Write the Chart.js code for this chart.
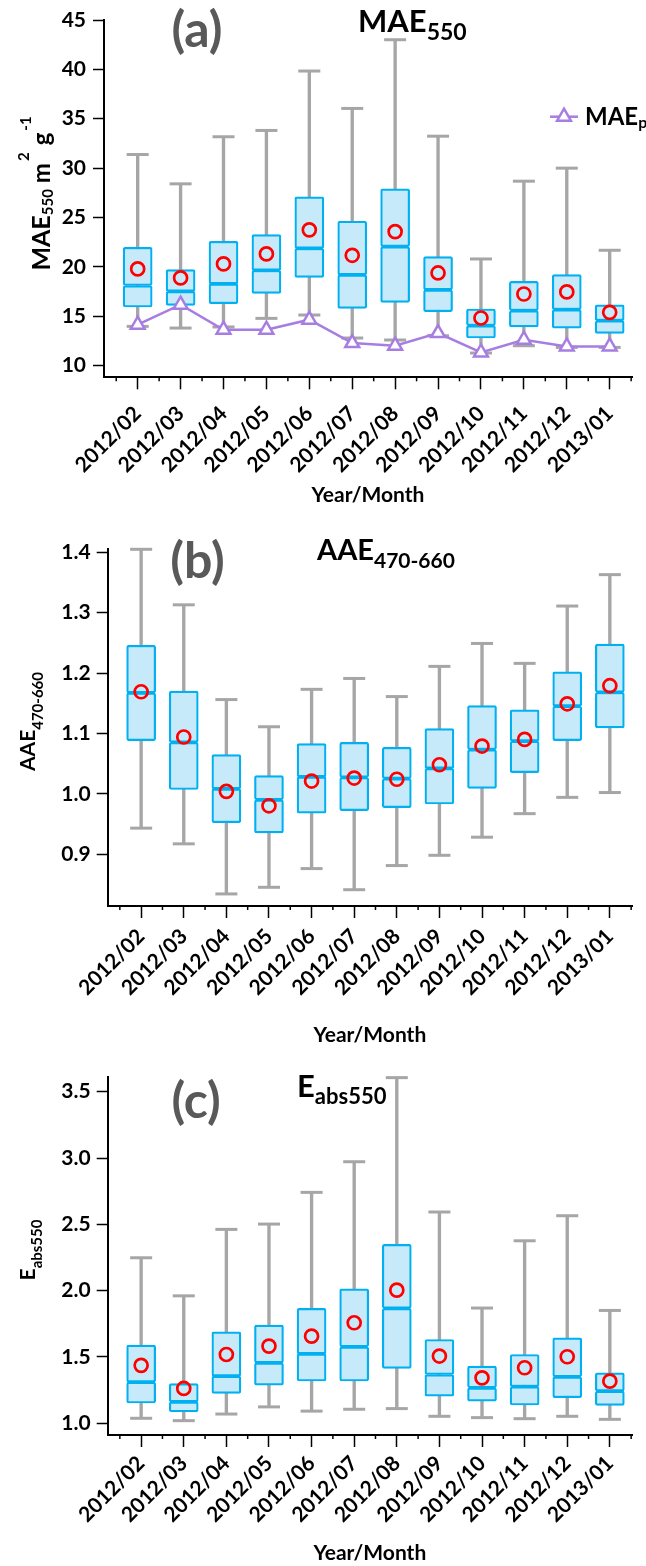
<!DOCTYPE html>
<html>
<head>
<meta charset="utf-8">
<script src="https://cdn.jsdelivr.net/npm/chart.js@4.4.1/dist/chart.umd.min.js"></script>
<style>
  html, body { margin: 0; padding: 0; background: #ffffff; }
  #wrap { position: relative; width: 646px; height: 1566px; overflow: hidden; }
  canvas { position: absolute; left: 0; }
</style>
</head>
<body>
<div id="wrap">
  <canvas id="panelA" width="646" height="515" style="top:0px"></canvas>
  <canvas id="panelB" width="646" height="535" style="top:515px"></canvas>
  <canvas id="panelC" width="646" height="516" style="top:1050px"></canvas>
</div>
<script>
// Monthly categories shared by the three panels
const months = ['2012/02', '2012/03', '2012/04', '2012/05', '2012/06', '2012/07',
                '2012/08', '2012/09', '2012/10', '2012/11', '2012/12', '2013/01'];

// (a) MAE550, m2 g-1 : whisker ends, quartiles, median, mean, and MAEp line
const maeMin  = [13.96, 13.79, 13.90, 14.77, 15.11, 12.78, 12.58, 13.01, 11.26, 12.00, 11.83, 11.83];
const maeQ1   = [15.92, 16.09, 16.26, 17.30, 18.93, 15.78, 16.39, 15.45, 12.78, 13.90, 13.79, 13.25];
const maeMed  = [18.10, 17.50, 18.26, 19.64, 21.87, 19.17, 22.04, 17.65, 14.03, 15.55, 15.65, 14.53];
const maeQ3   = [21.97, 19.71, 22.58, 23.26, 27.08, 24.61, 27.90, 21.03, 15.72, 18.52, 19.20, 16.13];
const maeMax  = [31.37, 28.40, 33.17, 33.81, 39.83, 36.04, 43.00, 33.23, 20.79, 28.67, 29.99, 21.67];
const maeMean = [19.78, 18.87, 20.29, 21.30, 23.74, 21.16, 23.56, 19.37, 14.81, 17.24, 17.45, 15.38];
const maeP    = [14.13, 16.16, 13.62, 13.62, 14.64, 12.27, 12.00, 13.28, 11.32, 12.61, 11.93, 11.93];
const maeTicks = [10, 15, 20, 25, 30, 35, 40, 45];

// (b) AAE470-660
const aaeMin  = [0.943, 0.917, 0.834, 0.845, 0.876, 0.841, 0.881, 0.898, 0.928, 0.967, 0.994, 1.002];
const aaeQ1   = [1.088, 1.007, 0.952, 0.935, 0.968, 0.972, 0.977, 0.983, 1.009, 1.035, 1.088, 1.109];
const aaeMed  = [1.167, 1.085, 1.008, 0.990, 1.028, 1.027, 1.025, 1.042, 1.073, 1.087, 1.145, 1.168];
const aaeQ3   = [1.246, 1.170, 1.065, 1.030, 1.083, 1.085, 1.077, 1.108, 1.146, 1.139, 1.202, 1.248];
const aaeMax  = [1.405, 1.313, 1.156, 1.111, 1.173, 1.191, 1.161, 1.211, 1.249, 1.216, 1.311, 1.363];
const aaeMean = [1.169, 1.094, 1.004, 0.980, 1.021, 1.026, 1.024, 1.048, 1.079, 1.090, 1.149, 1.179];
const aaeTicks = [0.9, 1.0, 1.1, 1.2, 1.3, 1.4];

// (c) Eabs550
const eMin  = [1.038, 1.020, 1.070, 1.124, 1.092, 1.106, 1.111, 1.053, 1.043, 1.035, 1.053, 1.030];
const eQ1   = [1.153, 1.087, 1.225, 1.288, 1.319, 1.319, 1.414, 1.205, 1.167, 1.138, 1.193, 1.135];
const eMed  = [1.310, 1.162, 1.356, 1.456, 1.523, 1.577, 1.866, 1.368, 1.268, 1.276, 1.351, 1.243];
const eQ3   = [1.590, 1.300, 1.690, 1.740, 1.866, 2.014, 2.349, 1.632, 1.431, 1.519, 1.645, 1.381];
const eMax  = [2.248, 1.961, 2.462, 2.502, 2.741, 2.972, 3.606, 2.593, 1.869, 2.376, 2.565, 1.851];
const eMean = [1.437, 1.263, 1.519, 1.582, 1.657, 1.758, 2.004, 1.507, 1.343, 1.419, 1.502, 1.318];
const eTicks = [1.0, 1.5, 2.0, 2.5, 3.0, 3.5];

const FONT = "Lato, 'Open Sans', 'Liberation Sans', sans-serif";
const BOX_EDGE = '#00B0F0';
const BOX_FILL = '#C7EAFB';
const WHISKER = '#A6A6A6';
const MEAN_RED = '#FF0000';
const PURPLE = '#A77DE2';
const INK = '#000000';

// draw a run of text pieces (sub/superscripts) along one baseline
function drawRuns(ctx, parts, x, y, align) {
  let total = 0;
  parts.forEach(p => {
    ctx.font = `bold ${p.size}px ${FONT}`;
    p.w = ctx.measureText(p.t).width;
    total += p.w + (p.gap || 0);
  });
  let cx = align === 'center' ? x - total / 2 : x;
  ctx.textAlign = 'left';
  ctx.textBaseline = 'alphabetic';
  parts.forEach(p => {
    cx += (p.gap || 0);
    ctx.font = `bold ${p.size}px ${FONT}`;
    ctx.fillText(p.t, cx, y + (p.dy || 0));
    cx += p.w;
  });
}

const toXY = arr => arr.map((v, i) => ({ x: i, y: v }));
const toRange = (lo, hi) => lo.map((v, i) => ({ x: i, y: [v, hi[i]] }));

function buildPanel(id, d) {
  const datasets = [
    { type: 'bar', data: toRange(d.min, d.max), backgroundColor: WHISKER, borderWidth: 0,
      barThickness: 2.7, grouped: false, order: 6, clip: false },
    { type: 'bar', data: toRange(d.q1, d.med), backgroundColor: BOX_FILL, borderColor: BOX_EDGE,
      borderWidth: 2.2, borderSkipped: false, borderRadius: 2, barThickness: 29, grouped: false, order: 5, clip: false },
    { type: 'bar', data: toRange(d.med, d.q3), backgroundColor: BOX_FILL, borderColor: BOX_EDGE,
      borderWidth: 2.2, borderSkipped: false, borderRadius: 2, barThickness: 29, grouped: false, order: 5, clip: false },
    { type: 'line', data: toXY(d.min), showLine: false, pointStyle: 'line', pointRadius: 11,
      pointBorderWidth: 3, pointBorderColor: WHISKER, order: 4, clip: false },
    { type: 'line', data: toXY(d.max), showLine: false, pointStyle: 'line', pointRadius: 11,
      pointBorderWidth: 3, pointBorderColor: WHISKER, order: 4, clip: false },
    { type: 'line', data: toXY(d.mean), showLine: false, pointStyle: 'circle', pointRadius: 6.5,
      pointBorderWidth: 2.7, pointBorderColor: MEAN_RED, pointBackgroundColor: 'rgba(0,0,0,0)', order: 2, clip: false }
  ];
  if (d.line) {
    datasets.push({ type: 'line', data: toXY(d.line), borderColor: PURPLE, borderWidth: 2.5,
      pointStyle: 'triangle', pointRadius: 8, pointBorderWidth: 2.5, pointBorderColor: PURPLE,
      pointBackgroundColor: '#FFFFFF', tension: 0, order: 1, clip: false });
  }

  const canvas = document.getElementById(id);
  const H = canvas.height;

  const decorations = {
    id: 'decor_' + id,
    afterDraw(chart) {
      const ctx = chart.ctx;
      const xs = chart.scales.x;
      const bottom = chart.chartArea.bottom;
      ctx.save();
      // minor ticks halfway between months
      ctx.strokeStyle = INK;
      ctx.lineWidth = 1.5;
      for (let v = -0.5; v <= months.length - 0.5; v += 1) {
        const px = xs.getPixelForValue(v);
        ctx.beginPath();
        ctx.moveTo(px, bottom);
        ctx.lineTo(px, bottom + 4);
        ctx.stroke();
      }
      // panel letter
      ctx.fillStyle = '#595959';
      ctx.font = `bold 50px ${FONT}`;
      ctx.textAlign = 'center';
      ctx.textBaseline = 'alphabetic';
      ctx.fillText(d.letter, d.letterX, d.letterY);
      // panel title
      ctx.fillStyle = INK;
      drawRuns(ctx, d.title, d.titleX, d.titleY, 'left');
      // rotated y-axis title
      ctx.save();
      ctx.translate(d.yTitleX, d.yTitleY);
      ctx.rotate(-Math.PI / 2);
      drawRuns(ctx, d.yTitle, 0, 0, 'center');
      ctx.restore();
      // legend for the MAEp line
      if (d.legend) {
        const L = d.legend;
        ctx.strokeStyle = PURPLE;
        ctx.lineWidth = 2.5;
        ctx.beginPath();
        ctx.moveTo(L.x0, L.y);
        ctx.lineTo(L.x1, L.y);
        ctx.stroke();
        ctx.fillStyle = '#FFFFFF';
        Chart.helpers.drawPoint(ctx, { pointStyle: 'triangle', radius: 8, borderWidth: 2.5, rotation: 0 },
          (L.x0 + L.x1) / 2, L.y);
        ctx.fillStyle = INK;
        drawRuns(ctx, [{ t: 'MAE', size: 24 }, { t: 'p', size: 16, dy: 3 }], L.textX, L.textY, 'left');
      }
      ctx.restore();
    }
  };

  return new Chart(canvas, {
    type: 'bar',
    data: { datasets },
    options: {
      responsive: false,
      animation: false,
      events: [],
      layout: { padding: { left: 0, right: d.padRight, top: d.padTop, bottom: 0 } },
      plugins: { legend: { display: false }, tooltip: { enabled: false } },
      scales: {
        x: {
          type: 'linear',
          min: -0.785,
          max: 11.52,
          offset: false,
          afterBuildTicks: s => { s.ticks = months.map((m, i) => ({ value: i })); },
          afterFit: s => { s.height = H - d.plotBottom; },
          grid: { drawOnChartArea: false, drawTicks: true, tickLength: 12, tickWidth: 1.5,
                  tickColor: INK, offset: false },
          border: { display: true, color: INK, width: 2 },
          ticks: {
            autoSkip: false, minRotation: 45, maxRotation: 45, padding: d.xLabelPad,
            color: INK, font: { family: FONT, size: 21, weight: 'bold' },
            callback: v => months[v]
          },
          title: { display: true, text: 'Year/Month', color: INK,
                   font: { family: FONT, size: 21, weight: 'bold' },
                   padding: { top: 4, bottom: d.xTitlePad } }
        },
        y: {
          type: 'linear',
          min: d.yMin,
          max: d.yMax,
          afterBuildTicks: s => { s.ticks = d.ticks.map(v => ({ value: v })); },
          afterFit: s => { s.width = d.plotLeft; },
          grid: { drawOnChartArea: false, drawTicks: true, tickLength: 11, tickWidth: 1.5, tickColor: INK },
          border: { display: true, color: INK, width: 2 },
          ticks: {
            padding: d.yLabelPad, color: INK,
            font: { family: FONT, size: 21, weight: 'bold' },
            callback: v => v.toFixed(d.decimals)
          }
        }
      }
    },
    plugins: [decorations]
  });
}

buildPanel('panelA', {
  min: maeMin, q1: maeQ1, med: maeMed, q3: maeQ3, max: maeMax, mean: maeMean, line: maeP,
  ticks: maeTicks, decimals: 0, yMin: 8.8, yMax: 45,
  plotLeft: 104, padRight: 12, padTop: 20, plotBottom: 377.3,
  xLabelPad: 12, xTitlePad: 7, yLabelPad: 7,
  letter: '(a)', letterX: 197, letterY: 47,
  title: [{ t: 'MAE', size: 31 }, { t: '550', size: 23, dy: 8 }], titleX: 358, titleY: 32,
  yTitle: [{ t: 'MAE', size: 25 }, { t: '550', size: 15, dy: 3 },
           { t: 'm', size: 24, gap: 6 }, { t: '2', size: 15, dy: -21, gap: 2 },
           { t: 'g', size: 24, gap: 7 }, { t: '-1', size: 15, dy: -19, gap: 2 }],
  yTitleX: 50, yTitleY: 193.5,
  legend: { x0: 550, x1: 578, y: 116.7, textX: 585, textY: 125 }
});

buildPanel('panelB', {
  min: aaeMin, q1: aaeQ1, med: aaeMed, q3: aaeQ3, max: aaeMax, mean: aaeMean,
  ticks: aaeTicks, decimals: 1, yMin: 0.814, yMax: 1.405,
  plotLeft: 107.7, padRight: 8, padTop: 34.3, plotBottom: 391,
  xLabelPad: 6, xTitlePad: 2, yLabelPad: 6,
  letter: '(b)', letterX: 197.5, letterY: 63,
  title: [{ t: 'AAE', size: 29 }, { t: '470-660', size: 21, dy: 8 }], titleX: 317, titleY: 45,
  yTitle: [{ t: 'AAE', size: 21 }, { t: '470-660', size: 15, dy: 8 }],
  yTitleX: 35, yTitleY: 206.5
});

buildPanel('panelC', {
  min: eMin, q1: eQ1, med: eMed, q3: eQ3, max: eMax, mean: eMean,
  ticks: eTicks, decimals: 1, yMin: 0.912, yMax: 3.61,
  plotLeft: 107.7, padRight: 8, padTop: 27.1, plotBottom: 385,
  xLabelPad: 4, xTitlePad: 0, yLabelPad: 6,
  letter: '(c)', letterX: 196, letterY: 68,
  title: [{ t: 'E', size: 31 }, { t: 'abs550', size: 22, dy: 7 }], titleX: 297, titleY: 47,
  yTitle: [{ t: 'E', size: 21 }, { t: 'abs550', size: 15, dy: 7 }],
  yTitleX: 35, yTitleY: 200
});
</script>
</body>
</html>
